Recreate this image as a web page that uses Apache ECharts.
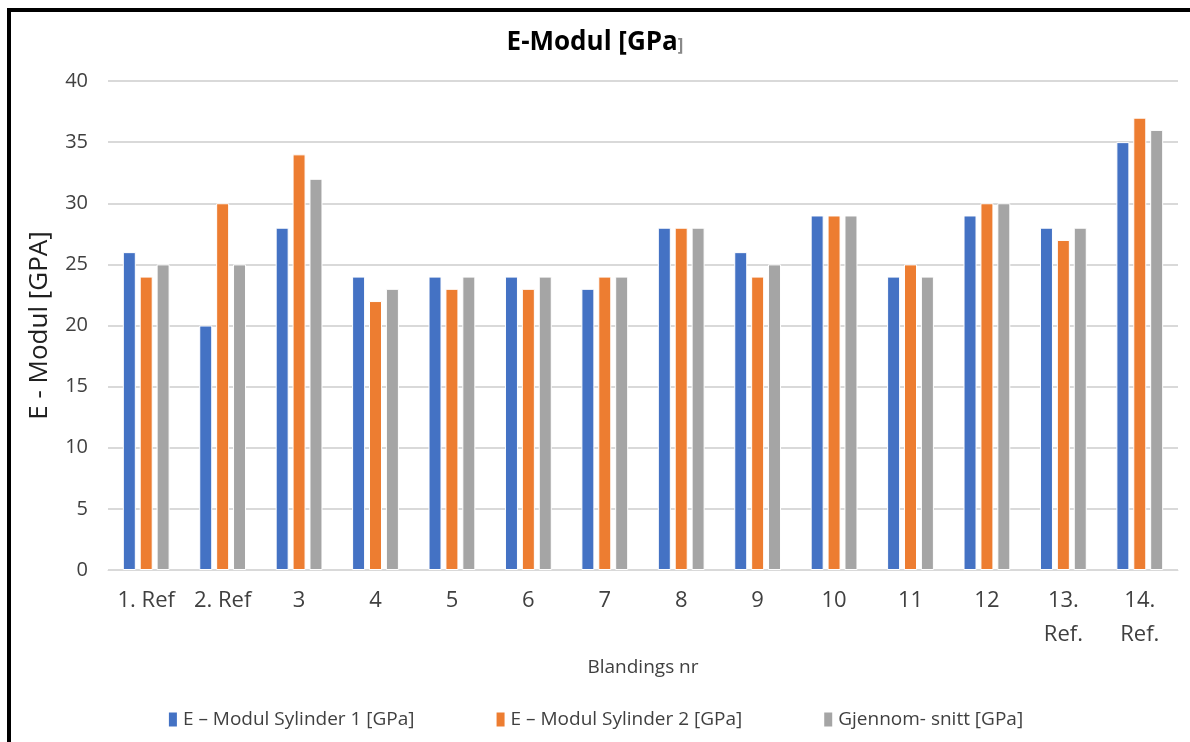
<!DOCTYPE html>
<html>
<head>
<meta charset="utf-8">
<script src="https://cdn.jsdelivr.net/npm/echarts@6/dist/echarts.min.js"></script>
<style>html,body{margin:0;padding:0;background:#fff;}#c{width:1190px;height:742px;}</style>
</head>
<body>
<div id="c"></div>
<script>
const categories = ['1. Ref', '2. Ref', '3', '4', '5', '6', '7', '8', '9', '10', '11', '12', '13.\nRef.', '14.\nRef.'];
const sylinder1 = [26, 20, 28, 24, 24, 24, 23, 28, 26, 29, 24, 29, 28, 35];
const sylinder2 = [24, 30, 34, 22, 23, 23, 24, 28, 24, 29, 25, 30, 27, 37];
const snitt = [25, 25, 32, 23, 24, 24, 24, 28, 25, 29, 24, 30, 28, 36];
const seriesNames = ['E – Modul Sylinder 1 [GPa]', 'E – Modul Sylinder 2 [GPa]', 'Gjennom- snitt [GPa]'];
const colors = ['#4472C4', '#ED7D31', '#A5A5A5'];

const font = '"Open Sans", "Noto Sans", sans-serif';
const chart = echarts.init(document.getElementById('c'), null, {renderer: 'canvas'});
const mk = (name, data, i) => ({
  name: name, type: 'bar', data: data,
  barWidth: 13, barGap: '30%',
  itemStyle: {color: colors[i], borderColor: '#ffffff', borderWidth: 1}
});
chart.setOption({
  animation: false,
  backgroundColor: '#fff',
  title: {
    text: '{a|E-Modul [GPa}{b|]}',
    left: 'center', top: 25,
    textStyle: {rich: {
      a: {fontFamily: font, fontSize: 26, fontWeight: 'bold', color: '#000'},
      b: {fontFamily: font, fontSize: 17, color: '#888', padding: [7, 0, 0, 0]}
    }}
  },
  legend: {
    bottom: 8, left: 'center', itemWidth: 10, itemHeight: 16, itemGap: 80,
    icon: 'rect',
    textStyle: {fontFamily: font, fontSize: 19, color: '#404040'},
    data: seriesNames
  },
  grid: {left: 108, right: 12, top: 81, bottom: 172},
  xAxis: {
    type: 'category', data: categories,
    name: 'Blandings nr', nameLocation: 'middle', nameGap: 88,
    nameTextStyle: {fontFamily: font, fontSize: 19, color: '#404040'},
    axisLine: {lineStyle: {color: '#d9d9d9', width: 1}},
    axisTick: {show: false},
    axisLabel: {fontFamily: font, fontSize: 22, color: '#404040', margin: 14, lineHeight: 34, interval: 0}
  },
  yAxis: {
    type: 'value', min: 0, max: 40, interval: 5,
    name: 'E - Modul [GPA]', nameLocation: 'middle', nameGap: 55,
    nameTextStyle: {fontFamily: font, fontSize: 26, color: '#202020'},
    axisLine: {show: false}, axisTick: {show: false},
    axisLabel: {fontFamily: font, fontSize: 20, color: '#404040', margin: 20},
    splitLine: {lineStyle: {color: '#d9d9d9', width: 2}}
  },
  graphic: [
    {type: 'rect', shape: {x: 7, y: 8, width: 4, height: 742}, style: {fill: '#000'}},
    {type: 'rect', shape: {x: 7, y: 8, width: 1190, height: 4}, style: {fill: '#000'}}
  ],
  series: [mk(seriesNames[0], sylinder1, 0), mk(seriesNames[1], sylinder2, 1), mk(seriesNames[2], snitt, 2)]
});
</script>
</body>
</html>
